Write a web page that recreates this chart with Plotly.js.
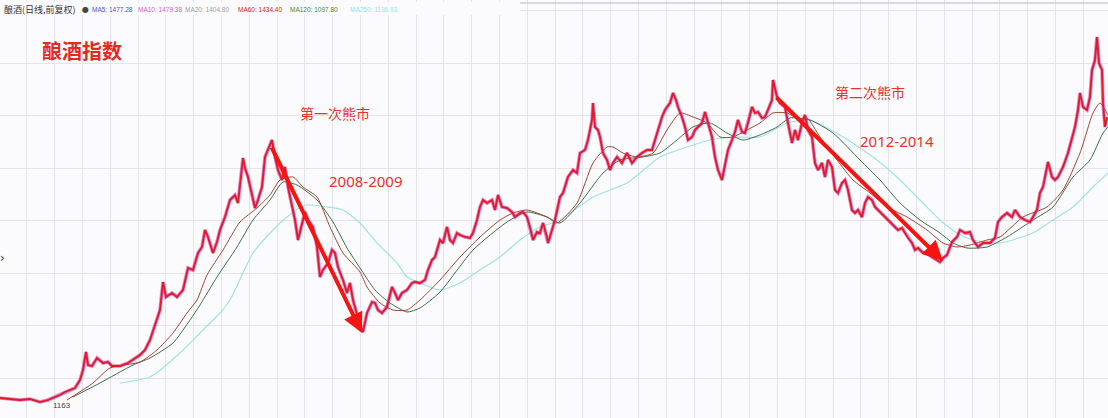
<!DOCTYPE html>
<html><head><meta charset="utf-8">
<script src="https://cdn.plot.ly/plotly-3.0.1.min.js"></script>
<style>html,body{margin:0;padding:0;background:#fbfbfd;}#chart{width:1108px;height:418px;}</style>
</head><body><div id="chart"></div>
<script>
// bar index (trading-day position) and index level (arbitrary units)
const priceX = [0,10,20,30,40,48,55,60,65,70,75,80,83,86,88,92,97,103,108,112,120,128,135,140,145,150,155,160,163,166,172,177,183,188,193,198,202,205,208,213,217,220,225,230,235,238,243,245,248,252,255,258,262,265,270,272,275,278,282,285,288,292,295,298,302,305,308,313,317,320,323,328,332,335,338,343,347,350,353,357,360,363,367,372,375,378,382,387,392,395,398,402,407,412,415,420,425,428,432,435,440,443,447,450,453,457,460,465,470,473,477,480,483,487,492,495,498,502,507,512,515,520,523,527,530,533,537,540,543,547,548,552,555,560,563,568,573,577,580,585,588,592,593,595,598,600,603,607,610,613,617,622,627,632,637,642,647,652,655,658,662,665,670,673,676,678,682,685,688,692,695,698,702,705,708,712,715,718,722,725,728,732,735,738,742,745,748,752,755,758,762,765,768,772,773,777,780,785,788,792,795,798,802,805,808,812,815,818,822,825,828,832,835,838,842,845,848,852,855,858,862,865,868,872,875,878,882,885,888,892,895,898,902,905,908,912,915,918,922,927,932,937,940,943,947,952,957,960,965,970,973,978,983,990,995,998,1002,1007,1012,1015,1020,1025,1030,1033,1037,1040,1043,1047,1048,1052,1055,1058,1063,1068,1072,1075,1078,1080,1083,1087,1090,1092,1095,1097,1099,1102,1103,1105,1107];
const priceY = [20,19,18,19,16,18,21,23,26,28,30,38,48,66,53,52,60,55,56,52,52,55,60,63,68,78,93,108,136,121,125,121,128,150,148,165,171,188,181,165,176,188,201,218,223,215,260,250,241,225,210,218,231,261,273,278,261,248,238,251,231,211,198,178,195,206,198,191,171,141,148,155,168,165,151,138,125,135,118,103,93,86,105,116,115,108,105,111,131,125,118,125,128,135,136,135,138,148,158,161,178,175,191,178,175,185,183,181,180,185,198,211,218,215,218,208,223,211,210,206,201,205,206,201,191,178,186,185,195,181,175,188,198,221,225,241,248,245,265,268,278,298,315,291,288,281,265,258,248,255,261,255,265,255,261,265,268,268,278,288,301,308,315,325,318,311,301,291,278,281,288,291,295,306,295,281,261,248,238,255,268,278,286,298,286,285,295,311,305,306,300,301,308,318,338,321,315,311,295,275,288,278,295,303,288,281,255,248,255,241,258,251,228,225,235,238,228,208,205,208,201,215,221,218,211,208,205,201,198,195,191,188,190,185,180,175,168,170,166,165,161,158,156,160,163,176,181,188,185,186,178,171,175,175,180,196,201,205,201,208,201,198,196,201,208,225,231,251,256,241,238,241,251,265,281,291,308,325,311,308,321,348,358,381,355,348,315,291,301];

const ma60X = [67,93,110,140,157,173,187,197,207,223,240,257,270,280,293,303,317,330,343,360,367,380,393,407,420,440,460,480,500,513,527,547,557,577,593,607,613,623,637,653,667,680,693,707,720,733,747,760,773,787,800,807,820,837,853,870,887,907,927,943,957,970,987,1000,1023,1047,1063,1080,1093,1100,1108];
const ma60Y = [18,35,50,56,68,85,105,118,143,168,196,210,223,238,241,231,221,191,165,146,131,115,108,108,118,138,161,181,198,205,208,201,195,215,255,271,271,265,261,265,288,305,301,295,281,281,288,295,305,305,298,300,281,258,238,225,211,201,188,175,171,173,178,181,201,211,228,265,305,315,303];

const ma120X = [73,100,133,150,173,190,200,217,237,253,270,283,297,317,333,347,360,375,390,407,420,440,473,507,527,547,560,580,603,620,643,660,677,693,710,727,743,760,777,790,810,833,860,880,900,920,940,953,967,987,1007,1033,1053,1073,1090,1103,1108];
const ma120Y = [21,35,53,60,75,98,113,141,171,198,218,236,233,218,196,170,150,128,115,106,110,126,168,196,206,201,195,215,245,258,261,265,278,291,295,285,278,283,291,300,298,285,258,238,215,198,185,175,170,171,181,198,211,241,258,285,291];

const ma250X = [120,150,180,200,220,230,253,273,287,305,327,343,360,377,397,407,420,440,460,480,500,520,540,560,593,627,660,687,710,733,760,787,810,840,873,897,920,940,957,973,1000,1033,1053,1073,1093,1108];
const ma250Y = [35,41,65,85,105,118,165,188,201,213,211,208,195,175,155,141,135,128,135,148,161,178,191,198,221,235,261,271,278,281,281,295,298,283,261,241,218,198,185,178,175,185,198,211,231,245];

const legendLabels = ['MA5: 1477.28','MA10: 1479.38','MA20: 1404.80','MA60: 1434.40','MA120: 1097.80','MA250: 1136.93'];

const lineTrace = (x, y, color, width, name, opacity) => ({
  type: 'scatter', mode: 'lines', x: x, y: y, name: name,
  line: {color: color, width: width, shape: 'spline', smoothing: 0.6},
  opacity: opacity === undefined ? 1 : opacity, hoverinfo: 'skip'
});

const data = [
  lineTrace(ma250X, ma250Y, '#9fe3e6', 1.2, 'MA250'),
  lineTrace(ma120X, ma120Y, '#3d6e48', 1, 'MA120'),
  lineTrace(ma60X, ma60Y, '#a3452f', 1, 'MA60'),
  {type:'scatter', mode:'lines', x: priceX, y: priceY, name:'酿酒', line:{color:'#cf3aa6', width:3.6}, opacity:0.6, hoverinfo:'skip'},
  {type:'scatter', mode:'lines', x: priceX, y: priceY, name:'酿酒', line:{color:'#6d3cb5', width:1.1}, opacity:0.6, hoverinfo:'skip'},
  {type:'scatter', mode:'lines', x: priceX, y: priceY, name:'酿酒', line:{color:'#e41a24', width:1.8}, hoverinfo:'skip'}
];

const red = '#e8332b';
const legendX = [90,136,183,236,288,348];
const legendColors = ['#3a55d0','#e055d0','#a0a0a0','#c8282a','#3f8a3a','#8fe3f3'];
const annotations = [
  {x:2, y:409, xref:'x', yref:'y', text:'酿酒(日线,前复权)', showarrow:false, xanchor:'left', yanchor:'middle', font:{family:'Noto Sans CJK SC', size:9, color:'#333'}},
  {x:85, y:409, xref:'x', yref:'y', text:'●', showarrow:false, xanchor:'center', yanchor:'middle', font:{family:'DejaVu Sans', size:8, color:'#444'}},
  {x:82, y:368, xref:'x', yref:'y', text:'<b>酿酒指数</b>', showarrow:false, font:{family:'Noto Sans CJK SC', size:20, color:'#e42a1f'}},
  {x:335, y:305, xref:'x', yref:'y', text:'第一次熊市', showarrow:false, font:{family:'Noto Sans CJK SC', size:14, color:red}},
  {x:365, y:237, xref:'x', yref:'y', text:'2008-2009', showarrow:false, font:{family:'Noto Sans', size:15, color:red}},
  {x:870, y:326, xref:'x', yref:'y', text:'第二次熊市', showarrow:false, font:{family:'Noto Sans CJK SC', size:14, color:red}},
  {x:897, y:277, xref:'x', yref:'y', text:'2012-2014', showarrow:false, font:{family:'Noto Sans', size:15, color:red}},
  {x:362, y:85, ax:271, ay:272, xref:'x', yref:'y', axref:'x', ayref:'y', text:'', showarrow:true, arrowhead:2, arrowsize:1, arrowwidth:4, arrowcolor:'#f5140f'},
  {x:943, y:157, ax:775, ay:322, xref:'x', yref:'y', axref:'x', ayref:'y', text:'', showarrow:true, arrowhead:2, arrowsize:1, arrowwidth:4, arrowcolor:'#f5140f'},
  {x:62, y:13, xref:'x', yref:'y', text:'1163', showarrow:false, font:{family:'Liberation Sans', size:8, color:'#444'}},
  {x:2, y:160, xref:'x', yref:'y', text:'›', showarrow:false, font:{family:'DejaVu Sans', size:12, color:'#333'}}
];
legendLabels.forEach((t, i) => annotations.push({x: legendX[i], y: 409, xref:'x', yref:'y', text: t, showarrow:false, xanchor:'left', yanchor:'middle', font:{family:'Liberation Sans Narrow, Liberation Sans', size:6.5, color: legendColors[i]}}));

const layout = {
  width:1108, height:418, margin:{l:0,r:0,t:0,b:0},
  paper_bgcolor:'#fbfbfd', plot_bgcolor:'#fbfbfd', showlegend:false,
  xaxis:{range:[0,1108], showticklabels:false, ticks:'', zeroline:false, showgrid:true, gridcolor:'#e4e4ea', gridwidth:1, tick0:26.8, dtick:27.8, fixedrange:true},
  yaxis:{range:[0,418], showticklabels:false, ticks:'', zeroline:false, showgrid:true, gridcolor:'#e4e4ea', gridwidth:1, tick0:40, dtick:52.5, fixedrange:true},
  shapes:[
    {type:'line', xref:'paper', yref:'y', x0:0, x1:1, y0:415, y1:415, line:{color:'#b8b8bc', width:1}},
    {type:'rect', xref:'x', yref:'y', x0:0, x1:520, y0:403, y1:416, fillcolor:'#fbfbfd', line:{width:0}, layer:'above'}
  ],
  annotations: annotations
};
Plotly.newPlot('chart', data, layout, {staticPlot:true, displayModeBar:false});
</script></body></html>
